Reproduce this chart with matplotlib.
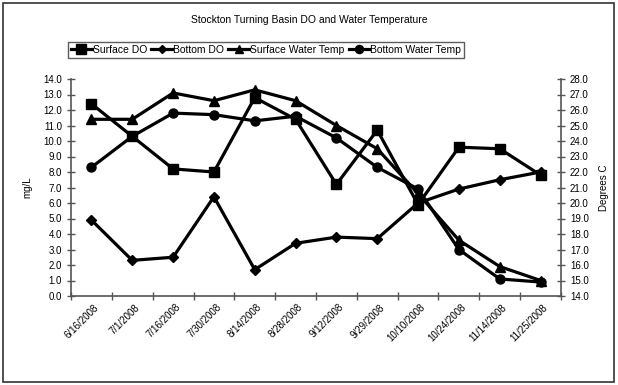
import numpy as np
import matplotlib
matplotlib.use('Agg')
import matplotlib.pyplot as plt
from matplotlib.patches import Rectangle

plt.rcParams['font.family'] = ['Liberation Sans', 'DejaVu Sans']

dates = ['6/16/2008', '7/1/2008', '7/16/2008', '7/30/2008', '8/14/2008', '8/28/2008',
         '9/12/2008', '9/29/2008', '10/10/2008', '10/24/2008', '11/14/2008', '11/25/2008']
surface_do = [12.4, 10.3, 8.2, 8.0, 12.8, 11.4, 7.2, 10.7, 5.9, 9.6, 9.5, 7.8]
bottom_do = [4.9, 2.3, 2.5, 6.4, 1.7, 3.4, 3.8, 3.7, 6.0, 6.9, 7.5, 8.0]
surface_temp = [25.4, 25.4, 27.1, 26.6, 27.3, 26.6, 25.0, 23.5, 20.6, 17.6, 15.9, 15.0]
bottom_temp = [22.3, 24.3, 25.8, 25.7, 25.3, 25.6, 24.2, 22.3, 20.9, 17.0, 15.1, 14.9]

fig = plt.figure(figsize=(6.18, 3.85), dpi=100)
ax = fig.add_axes([71 / 618, 1 - 296 / 385, 490 / 618, 217 / 385])
ax2 = ax.twinx()

x = np.arange(len(dates)) + 0.5
lw = 2.3
l1, = ax.plot(x, surface_do, color='black', lw=lw, marker='s', ms=7.5, label='Surface DO')
l2, = ax.plot(x, bottom_do, color='black', lw=lw, marker='D', ms=5, label='Bottom DO')
l3, = ax2.plot(x, surface_temp, color='black', lw=lw, marker='^', ms=7, label='Surface Water Temp')
l4, = ax2.plot(x, bottom_temp, color='black', lw=lw, marker='o', ms=6.5, label='Bottom Water Temp')

ax.set_xlim(0, len(dates))
ax.set_ylim(0, 14)
ax2.set_ylim(14, 28)
ax.set_yticks(np.arange(0, 14.1, 1))
ax.set_yticklabels([f'{v:.1f}' for v in np.arange(0, 14.1, 1)])
ax2.set_yticks(np.arange(14, 28.1, 1))
ax2.set_yticklabels([f'{v:.1f}' for v in np.arange(14, 28.1, 1)])
ax.set_xticks(np.arange(0, len(dates) + 1))
ax.set_xticklabels([''] * (len(dates) + 1))
for i, d in enumerate(dates):
    ax.text(x[i] + 0.05, -0.4, d, rotation=45, ha='right', va='top', fontsize=7,
            transform=ax.transData, rotation_mode='anchor')

for a in (ax, ax2):
    for s in a.spines.values():
        s.set_visible(False)
    a.tick_params(labelsize=7, direction='inout', length=6, color='#555555', width=1)
ax.spines['left'].set_visible(True)
ax.spines['bottom'].set_visible(True)
ax2.spines['right'].set_visible(True)
for s in (ax.spines['left'], ax.spines['bottom'], ax2.spines['right']):
    s.set_color('#555555')
    s.set_linewidth(1.2)

ax.set_ylabel('mg/L', fontsize=7, labelpad=8)
ax2.set_ylabel('Degrees C', fontsize=7, rotation=90, labelpad=7)

fig.text(0.5, 1 - 20 / 385, 'Stockton Turning Basin DO and Water Temperature',
         ha='center', va='center', fontsize=7.5)

leg = fig.legend(handles=[l1, l2, l3, l4], loc='center', ncol=4,
                 bbox_to_anchor=(266 / 618, 1 - 50 / 385), fontsize=7.5,
                 frameon=True, fancybox=False, handlelength=2.0, handletextpad=0.1,
                 columnspacing=0.4, borderpad=0.25, markerscale=0.9)
leg.get_frame().set_edgecolor('#333333')
leg.get_frame().set_linewidth(1)

fig.patches.append(Rectangle((3 / 618, 3 / 385), 611 / 618, 379 / 385, transform=fig.transFigure,
                             fill=False, edgecolor='#333333', lw=1.2))

fig.savefig('out.png', dpi=100)
